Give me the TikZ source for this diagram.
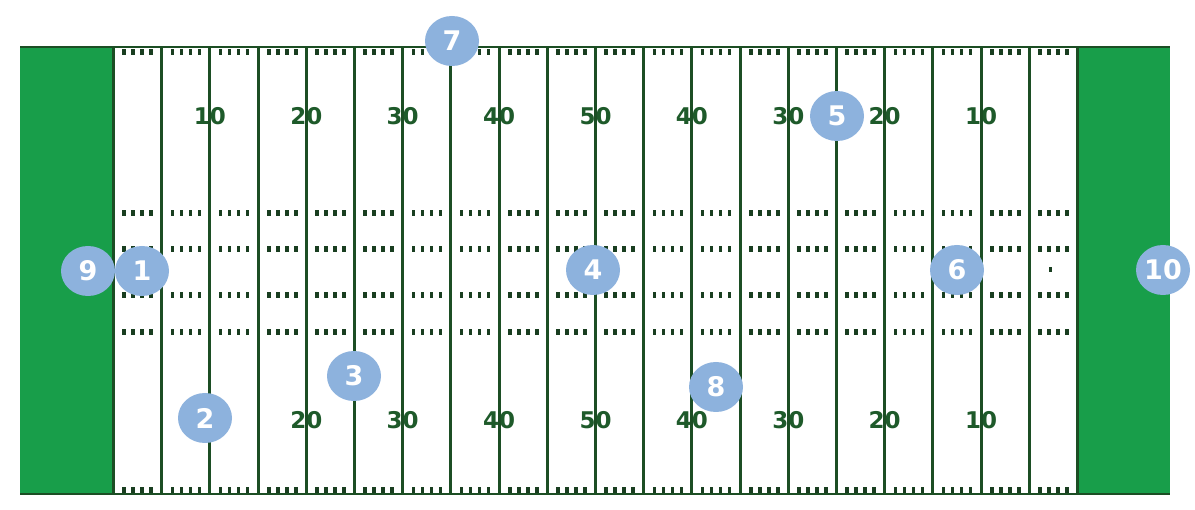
\documentclass[tikz,border=0pt]{standalone}
\usepackage{fontspec}
\usetikzlibrary{shapes.geometric}
\newfontfamily\numfont{DejaVu Sans}
\definecolor{ez}{RGB}{24,158,74}
\definecolor{yl}{RGB}{28,78,36}
\definecolor{yn}{RGB}{30,90,42}
\definecolor{hm}{RGB}{25,62,32}
\definecolor{bub}{RGB}{141,178,221}
\begin{document}
\begin{tikzpicture}[x=1pt,y=-1pt,
  yardnum/.style={font=\numfont\bfseries\fontsize{23}{23}\selectfont, text=yn, inner sep=0pt},
  bubble/.style={ellipse, minimum width=54pt, minimum height=50pt, fill=bub, inner sep=0pt,
    text=white, font=\numfont\bfseries\fontsize{27}{27}\selectfont},
  yardline/.style={draw=yl, line width=3pt},
  sideline/.style={draw=yl, line width=2pt},
  hashmark/.style={fill=hm}]
\useasboundingbox (0,0) rectangle (1195,510);
\fill[white] (0,0) rectangle (1195,510);
% end zones
\fill[ez] (20,47) rectangle (113,494);
\fill[ez] (1078,47) rectangle (1170,494);
% hash marks
\foreach \i in {0,...,19} {
  \foreach \k in {1,...,4} {
    \pgfmathsetmacro\xx{113.5+48.2*\i+24.1+(\k-2.5)*9.0}
    \foreach \yy in {213,249,295,332}
      \fill[hashmark] (\xx-1.8,\yy-2.6) rectangle (\xx+1.8,\yy+2.6);
    \fill[hashmark] (\xx-1.8,49) rectangle (\xx+1.8,55.5);
    \fill[hashmark] (\xx-1.8,487) rectangle (\xx+1.8,493);
  }
}
\fill[hashmark] (1048.5,267.5) rectangle (1051.5,272.5);
% yard numbers
\foreach \i/\t [count=\n] in {2/10,4/20,6/30,8/40,10/50,12/40,14/30,16/20,18/10}
  \node[yardnum] (top\n) at (113.5+48.2*\i,116) {\t};
\foreach \i/\t [count=\n] in {4/20,6/30,8/40,10/50,12/40,14/30,16/20,18/10}
  \node[yardnum] (bot\n) at (113.5+48.2*\i,420) {\t};
% yard lines
\foreach \i in {0,...,20}
  \draw[yardline] (113.5+48.2*\i,47) -- (113.5+48.2*\i,494);
% sidelines
\draw[sideline] (20,47) -- (1170,47);
\draw[sideline] (20,494) -- (1170,494);
% bubbles
\node[bubble] (b9) at (88,271) {9};
\node[bubble] (b1) at (142,271) {1};
\node[bubble] (b2) at (205,418) {2};
\node[bubble] (b3) at (354,376) {3};
\node[bubble] (b4) at (593,270) {4};
\node[bubble] (b5) at (837,116) {5};
\node[bubble] (b6) at (957,270) {6};
\node[bubble] (b7) at (452,41) {7};
\node[bubble] (b8) at (716,387) {8};
\node[bubble] (b10) at (1163,270) {10};
\end{tikzpicture}
\end{document}
